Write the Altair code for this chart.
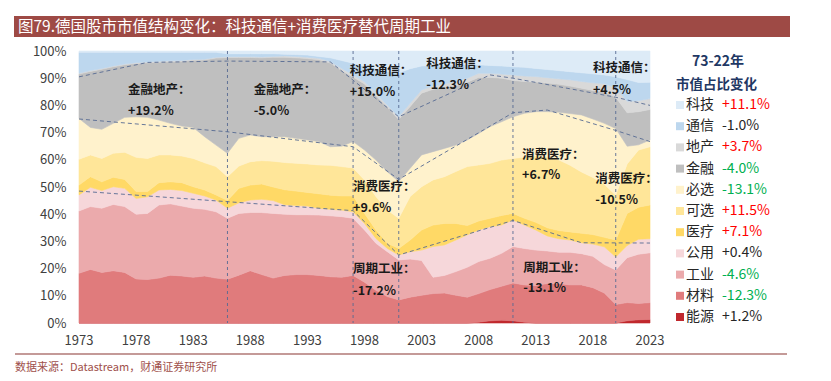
import altair as alt
import pandas as pd

FONT = "Noto Sans CJK SC"
TITLE = "图79.德国股市市值结构变化：科技通信+消费医疗替代周期工业"
SOURCE = "数据来源：Datastream，财通证券研究所"

years = list(range(1973, 2024))
sectors = ["能源", "材料", "工业", "公用", "医疗", "可选", "必选", "金融", "地产", "通信", "科技"]
colors = ["#C0282D", "#E07B7C", "#EBAAAC", "#F6D7DA", "#FFD966", "#FFE699",
          "#FFF2CC", "#BFBFBF", "#D9D9D9", "#BDD7EE", "#DDEBF7"]

# market-cap shares (%) 1973..2023
energy = [0] * 35 + [0.3, 0.8, 1.0, 0.8, 0.3] + [0] * 8 + [0.8, 1.2, 1.3]
materials = [18.3, 19.7, 18.6, 19.2, 18.6, 16.2, 16.0, 16.5, 17.6, 17.3, 16.8, 17.3, 16.5, 16.1, 17.6, 19.2, 17.8, 16.5,
             17.5, 17.8, 17.8, 17.5, 17.0, 16.8, 17.5, 15.0, 12.0, 9.7,
             8.5, 9.5, 10.2, 10.8, 11.0, 10.2, 9.5, 10.5, 11.5, 12.5,
             13.9, 13.7, 13.8, 14.5, 14.5, 14.0, 14.0, 13.0, 11.0, 6.8,
             6.7, 6.0, 6.2]
industrials = [22.9, 23.1, 23.6, 24.4, 24.2, 23.8, 24.3, 26.9, 26.2, 25.7, 25.4, 24.5, 24.4, 22.4, 22.7, 21.4, 22.8, 23.8,
               22.5, 22.0, 22.0, 22.2, 22.4, 22.3, 21.0, 19.2, 17.3, 16.5,
               14.7, 14.0, 12.8, 6.0, 6.5, 8.7, 11.0, 11.8, 11.5, 12.1,
               13.4, 13.4, 13.0, 12.0, 11.5, 12.0, 11.5, 11.5, 10.5, 12.7,
               16.5, 18.1, 18.3]
utilities = [5.9, 7.1, 6.5, 6.5, 6.7, 5.8, 6.1, 5.5, 5.3, 5.7, 5.5, 4.9, 4.3, 3.7, 3.9, 4.6, 4.9, 4.7,
             3.5, 3.4, 3.2, 2.5, 2.4, 2.4, 2.4, 2.4, 1.8, 1.2,
             1.8, 2.7, 3.8, 11.3, 11.2, 11.6, 11.9, 11.6, 11.6, 10.4,
             9.8, 8.6, 7.4, 5.5, 5.0, 4.5, 4.0, 4.5, 6.5, 4.8,
             4.5, 5.5, 5.2]
health = [3.6, 3.9, 3.2, 3.5, 3.3, 2.5, 1.9, 2.7, 2.8, 2.9, 2.4, 2.2, 1.9, 2.8, 5.3, 5.5, 5.6, 5.0,
          5.5, 5.3, 5.0, 5.3, 5.2, 5.2, 5.8, 3.7, 3.1, 1.9,
          2.4, 4.3, 7.4, 7.9, 7.9, 6.1, 3.4, 3.3, 3.1, 3.5,
          2.4, 2.5, 2.8, 3.0, 3.0, 3.0, 3.5, 3.5, 3.5, 6.2,
          11.8, 11.8, 12.4]
discretionary = [9.5, 8.0, 8.6, 8.8, 10.0, 12.6, 12.2, 10.2, 9.9, 9.8, 10.4, 10.0, 10.4, 8.8, 8.2, 8.6, 8.6, 9.5,
                 10.0, 10.2, 10.5, 10.6, 11.0, 10.8, 10.3, 12.3, 12.3, 12.2,
                 11.1, 16.0, 15.9, 16.6, 17.2, 19.1, 21.7, 20.6, 20.2, 20.4,
                 20.2, 22.5, 24.5, 26.0, 26.0, 24.5, 22.5, 21.0, 19.5, 16.5,
                 18.2, 21.0, 21.4]
staples = [15.0, 10.1, 10.7, 11.0, 12.8, 14.9, 15.1, 12.8, 11.6, 11.0, 11.4, 9.6, 7.9, 8.6, 10.2, 9.8, 8.8, 9.0,
           9.5, 9.2, 8.8, 8.6, 6.8, 7.5, 9.7, 11.0, 13.4, 14.1,
           13.5, 10.4, 11.7, 10.4, 10.4, 9.7, 9.8, 11.6, 13.5, 14.1,
           15.3, 16.1, 16.2, 16.7, 17.5, 19.0, 21.0, 21.5, 22.4, 24.5,
           6.5, 1.9, 2.5]
financials = [16.3, 20.6, 22.1, 20.8, 19.3, 19.6, 20.1, 21.3, 22.7, 23.8, 24.7, 28.2, 32.0, 35.2, 29.7, 28.5, 29.0, 29.2,
              29.2, 29.6, 29.9, 30.1, 30.8, 27.8, 23.7, 24.3, 23.7, 23.7,
              22.8, 22.7, 22.7, 22.9, 22.5, 21.8, 21.2, 20.6, 18.1, 16.0,
              13.4, 11.7, 10.9, 10.5, 10.3, 10.1, 9.8, 10.5, 11.6, 11.5,
              12.3, 12.2, 11.2]
real_estate = [0.3] * 18 + [0.5] * 5 + [0.8] * 5 + [1.0] + [1.2] * 4 + [1.5] * 5 + [2.0] * 5 + \
              [2.3, 2.5, 2.8, 3.0, 3.5] + [4.2, 4.0, 4.0]
telecom = [7.7, 6.7, 5.9, 5.0, 4.3, 3.8, 3.5, 3.3, 3.1, 3.0, 2.6, 2.5, 1.8, 1.1, 1.1, 1.1, 1.2, 1.0,
           0.6, 0.7, 0.8, 0.7, 1.4, 2.9, 4.3, 5.8, 9.1, 12.4,
           16.2, 12.7, 8.8, 7.6, 7.0, 6.3, 5.0, 3.1, 2.9, 3.0,
           3.0, 3.2, 3.0, 3.0, 3.0, 3.0, 3.2, 3.3, 3.2, 4.0,
           8.0, 6.7, 6.0]
tech = [0.5] * 13 + [1.0] * 5 + [1.2, 1.3, 1.5, 2.0, 2.5, 3.5, 4.5, 5.5, 6.5, 7.5,
                                 8.0, 6.5, 5.5, 5.3, 5.1, 5.0, 5.0, 5.1, 5.3, 5.5,
                                 5.8, 6.0, 6.4, 6.8, 7.2, 7.6, 8.0, 8.4, 8.8, 9.5,
                                 10.5, 11.6, 11.5]

series = [energy, materials, industrials, utilities, health, discretionary,
          staples, financials, real_estate, telecom, tech]

# legend: 1973-2022 change in share
legend_order = ["科技", "通信", "地产", "金融", "必选", "可选", "医疗", "公用", "工业", "材料", "能源"]
legend_change = [11.1, -1.0, 3.7, -4.0, -13.1, 11.5, 7.1, 0.4, -4.6, -12.3, 1.2]

# dashed trend guides
trend_name = ["a"] * 9 + ["b"] * 8 + ["c"] * 7
trend_year = [1973, 1979, 1986, 1995, 2001, 2009, 2011, 2020, 2023,
              1973, 1986, 1997, 2001, 2011, 2014, 2020, 2023,
              1973, 1986, 1997, 2001, 2011, 2017, 2023]
trend_val = [90.5, 95.8, 96.3, 96.0, 75.8, 91.2, 90.0, 83.0, 80.0,
             75.0, 70.3, 64.8, 52.8, 77.3, 78.3, 70.8, 66.7,
             48.5, 44.6, 41.3, 25.0, 37.7, 29.5, 29.4]
vline_years = [1986, 1997, 2001, 2011, 2020]
label_years = [1973, 1978, 1983, 1988, 1993, 1998, 2003, 2008, 2013, 2018, 2023]

ann_text = ["金融地产：", "+19.2%", "金融地产：", "-5.0%", "科技通信：", "+15.0%",
            "科技通信：", "-12.3%", "科技通信：", "+4.5%", "消费医疗：", "+9.6%",
            "周期工业：", "-17.2%", "消费医疗：", "+6.7%", "消费医疗：", "-10.5%",
            "周期工业：", "-13.1%"]
ann_year = [1977.3, 1977.3, 1988.3, 1988.3, 1996.7, 1996.7, 2003.4, 2003.4, 2018.0, 2018.0,
            1997.0, 1997.0, 1997.0, 1997.0, 2011.8, 2011.8, 2018.2, 2018.2, 2011.9, 2011.9]
ann_val = [85.7, 77.9, 85.7, 77.9, 92.8, 85.0, 95.2, 87.5, 93.8, 85.7,
           50.1, 42.3, 19.9, 11.8, 61.8, 54.4, 52.8, 45.2, 20.1, 12.8]

rows = []
for i, (name, vals) in enumerate(zip(sectors, series)):
    for yr, v in zip(years, vals):
        rows.append({"year": yr, "sector": name, "order": i, "value": v})
df = pd.DataFrame(rows)

x_scale = alt.Scale(domain=[1973, 2023], nice=False, zero=False)
y_scale = alt.Scale(domain=[0, 100], nice=False, zero=True)
color_scale = alt.Scale(domain=sectors, range=colors)


def xq(field="year"):
    return alt.X(f"{field}:Q", scale=x_scale, axis=None)


area = alt.Chart(df).mark_area(interpolate="linear", strokeWidth=0.6).encode(
    x=alt.X("year:Q", scale=x_scale, axis=alt.Axis(
        values=years, labels=False, tickSize=5, tickColor="#BFBFBF",
        domainColor="#BFBFBF", grid=False, title=None)),
    y=alt.Y("value:Q", stack="zero", scale=y_scale, axis=alt.Axis(
        values=list(range(0, 101, 10)), labelExpr="datum.value + '%'",
        ticks=False, domain=False, grid=False, labelFontSize=13,
        labelColor="#404040", labelPadding=13, title=None, labelFont=FONT)),
    color=alt.Color("sector:N", scale=color_scale, legend=None),
    stroke=alt.Color("sector:N", scale=color_scale, legend=None),
    order=alt.Order("order:Q", sort="ascending"),
)

# year labels under the axis, placed through the x scale
xlabels = alt.Chart(pd.DataFrame({"year": label_years})).mark_text(
    align="center", baseline="middle", fontSize=13, font=FONT, color="#404040"
).encode(x=xq(), y=alt.value(290), text=alt.Text("year:Q", format="d"))

GUIDE = "#566A92"
vlines = alt.Chart(pd.DataFrame({"year": vline_years})).mark_rule(
    color=GUIDE, strokeDash=[3, 3], strokeWidth=1, opacity=0.9
).encode(x=xq())

trend = alt.Chart(pd.DataFrame({"line": trend_name, "year": trend_year, "val": trend_val})).mark_line(
    color=GUIDE, strokeDash=[4, 3], strokeWidth=1, opacity=0.9
).encode(
    x=xq(),
    y=alt.Y("val:Q", scale=y_scale, axis=None),
    detail="line:N",
)

ann = alt.Chart(pd.DataFrame({"text": ann_text, "year": ann_year, "val": ann_val})).mark_text(
    align="left", baseline="middle", fontWeight="bold", fontSize=12.5, font=FONT, color="#1A1A1A"
).encode(
    x=xq(),
    y=alt.Y("val:Q", scale=y_scale, axis=None),
    text="text:N",
)

# legend
leg_df = pd.DataFrame({"sector": legend_order, "chg": legend_change})
ly = alt.Y("sector:N", sort=legend_order,
           scale=alt.Scale(type="point", domain=legend_order, range=[54, 266], padding=0),
           axis=None)
leg_base = alt.Chart(leg_df).transform_calculate(
    lab="(datum.chg > 0 ? '+' : '-') + format(abs(datum.chg), '.1f') + '%'"
)
leg_sq = leg_base.mark_square(size=64, opacity=1).encode(
    x=alt.value(601), y=ly,
    color=alt.Color("sector:N", scale=color_scale, legend=None),
)
leg_names = leg_base.mark_text(align="left", baseline="middle", fontSize=14, font=FONT,
                               color="#262626").encode(x=alt.value(607), y=ly, text="sector:N")
leg_up = leg_base.transform_filter("datum.chg >= 3").mark_text(
    align="left", baseline="middle", fontSize=14, font=FONT, color="#FF0000"
).encode(x=alt.value(643), y=ly, text="lab:N")
leg_down = leg_base.transform_filter("datum.chg <= -3").mark_text(
    align="left", baseline="middle", fontSize=14, font=FONT, color="#00B050"
).encode(x=alt.value(643), y=ly, text="lab:N")
leg_flat = leg_base.transform_filter("datum.chg > -3 && datum.chg < 3").mark_text(
    align="left", baseline="middle", fontSize=14, font=FONT, color="#262626"
).encode(x=alt.value(643), y=ly, text="lab:N")

one = pd.DataFrame({"t": [TITLE], "s": [SOURCE], "l1": ["73-22年"], "l2": ["市值占比变化"]})
leg_t1 = alt.Chart(one).mark_text(align="center", baseline="middle", fontSize=14, fontWeight="bold",
                                  font=FONT, color="#1F3864").encode(
    x=alt.value(639), y=alt.value(11), text="l1:N")
leg_t2 = alt.Chart(one).mark_text(align="left", baseline="middle", fontSize=13.5, fontWeight="bold",
                                  font=FONT, color="#1F3864").encode(
    x=alt.value(597), y=alt.value(34), text="l2:N")

title_bar = alt.Chart(one).mark_rect(color="#9E4A45").encode(
    x=alt.value(-65), x2=alt.value(711), y=alt.value(-35), y2=alt.value(-14))
title_txt = alt.Chart(one).mark_text(align="left", baseline="middle", fontSize=15.5, font=FONT,
                                     color="white").encode(
    x=alt.value(-61), y=alt.value(-24.5), text="t:N")

src_line = alt.Chart(one).mark_rule(color="#C49A98", strokeWidth=2).encode(
    x=alt.value(-64), x2=alt.value(708), y=alt.value(303))
src_txt = alt.Chart(one).mark_text(align="left", baseline="middle", fontSize=11, font=FONT,
                                   color="#A0504B").encode(
    x=alt.value(-64), y=alt.value(317), text="s:N")

chart = alt.layer(
    area, xlabels, vlines, trend, ann,
    leg_sq, leg_names, leg_up, leg_down, leg_flat, leg_t1, leg_t2,
    title_bar, title_txt, src_line, src_txt,
).resolve_scale(y="independent").properties(
    width=571, height=272,
    autosize=alt.AutoSizeParams(type="none"),
    padding={"left": 71, "top": 43, "right": 165, "bottom": 50},
    background="white",
).configure_view(stroke=None)

chart.save("out.html", embed_options={"renderer": "svg", "actions": False})
